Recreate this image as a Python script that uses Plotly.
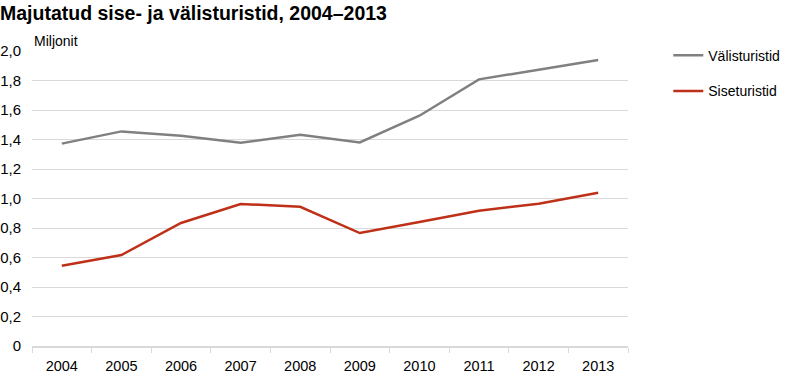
import plotly.graph_objects as go

years = ["2004", "2005", "2006", "2007", "2008", "2009", "2010", "2011", "2012", "2013"]
valis = [1.372, 1.455, 1.426, 1.378, 1.432, 1.380, 1.561, 1.808, 1.873, 1.939]
sise = [0.544, 0.617, 0.834, 0.963, 0.944, 0.766, 0.841, 0.917, 0.965, 1.039]
ytick_vals = [0, 0.2, 0.4, 0.6, 0.8, 1.0, 1.2, 1.4, 1.6, 1.8, 2.0]
ytick_text = ["0", "0,2", "0,4", "0,6", "0,8", "1,0", "1,2", "1,4", "1,6", "1,8", "2,0"]

W, H = 785, 377
ml, mr, mt, mb = 31.5, 157.3, 51.3, 30.7
pw = W - ml - mr
ph = H - mt - mb
FONT = "Liberation Sans, Arial, sans-serif"

fig = go.Figure()
fig.add_trace(go.Scatter(x=years, y=valis, mode="lines", name="Välisturistid",
                         line=dict(color="#808080", width=2.5), legendgroup="a"))
fig.add_trace(go.Scatter(x=years, y=sise, mode="lines", name="Siseturistid",
                         line=dict(color="#bf3018", width=2.5), legendgroup="b"))

fig.update_layout(
    width=W, height=H,
    margin=dict(l=ml, r=mr, t=mt, b=mb, pad=0, autoexpand=False),
    paper_bgcolor="white", plot_bgcolor="white",
    font=dict(family=FONT, size=14, color="#000000"),
    title=dict(text="<b>Majutatud sise- ja välisturistid, 2004–2013</b>",
               font=dict(family=FONT, size=19.5, color="#000000"),
               xref="container", x=0, xanchor="left", yref="container",
               y=1 - 13 / H, yanchor="middle", pad=dict(l=0, r=0, t=0, b=0),
               automargin=False),
    showlegend=True,
    legend=dict(x=(668 - ml) / pw, xanchor="left", y=(H - mb - 40) / ph, yanchor="top",
                font=dict(size=14, family=FONT),
                traceorder="grouped", tracegroupgap=14.5, itemwidth=30,
                bgcolor="rgba(0,0,0,0)"),
    xaxis=dict(type="category", showgrid=False, showline=True, linecolor="#d9d9d9",
               linewidth=2, ticks="outside", tickson="boundaries", ticklen=5,
               tickcolor="#d9d9d9", tickwidth=1, automargin=False,
               ticklabelstandoff=6,
               tickfont=dict(family=FONT, size=14.5),
               range=[-0.5, 9.5], zeroline=False),
    yaxis=dict(range=[0, 2.0], tickvals=ytick_vals, ticktext=ytick_text,
               showgrid=True, gridcolor="#d9d9d9", gridwidth=1, zeroline=False,
               showline=False, ticks="", ticklabelstandoff=10, automargin=False,
               tickfont=dict(size=15)),
)

fig.add_annotation(text="Miljonit", xref="paper", yref="paper", x=0, y=(H - mb - 41) / ph,
                   xanchor="left", yanchor="middle", showarrow=False, xshift=0,
                   font=dict(size=14))

fig.write_html("out.html", config={"displayModeBar": False},
               post_script="document.body.style.margin='0';document.body.style.overflow='hidden';")
